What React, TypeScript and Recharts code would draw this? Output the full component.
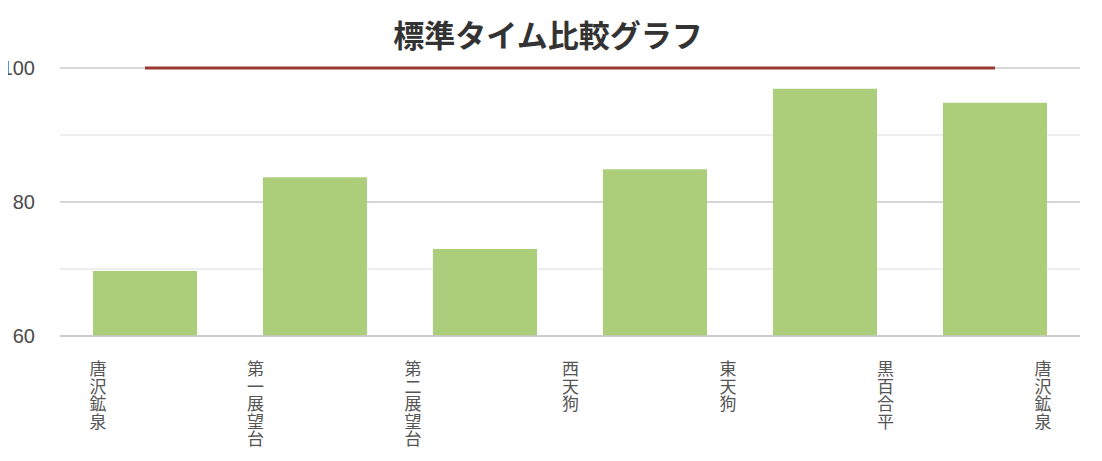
import { ComposedChart, Bar, Line, XAxis, YAxis, CartesianGrid } from "recharts";

const stations = ["唐沢鉱泉", "第一展望台", "第二展望台", "西天狗", "東天狗", "黒百合平", "唐沢鉱泉"];
const actualTimes = [69.7, 83.7, 73.0, 84.9, 96.9, 94.8];
const standardTimes = [100, 100, 100, 100, 100, 100];
const gridTicks = [60, 70, 80, 90, 100];
const labelledTicks = [60, 80, 100];

const data = actualTimes.map((actual, i) => ({
  segment: `${stations[i]}→${stations[i + 1]}`,
  actual,
  standard: standardTimes[i],
}));

const stationData = stations.map((name, i) => ({ pos: i, name, base: 60 }));
const stationIndexes = stations.map((_, i) => i);

const cjk = '"Noto Sans CJK JP", "Noto Sans", sans-serif';

const StationTick = ({ x, y, payload }: any) => {
  const label = stations[payload.value] ?? "";
  return (
    <text x={x} y={y + 39} textAnchor="middle" fill="#555" fontSize={17} fontFamily={cjk}>
      {label.split("").map((ch, i) => (
        <tspan key={i} x={x} dy={i === 0 ? 0 : 17.6}>
          {ch}
        </tspan>
      ))}
    </text>
  );
};

const ValueTick = ({ x, y, payload }: any) => {
  if (!labelledTicks.includes(payload.value)) return null;
  return (
    <text
      x={x}
      y={y}
      dy="0.36em"
      textAnchor="end"
      fill="#4a4a4a"
      fontSize={20}
      fontFamily='"Liberation Sans", Arial, sans-serif'
    >
      {payload.value}
    </text>
  );
};

const GridLine = (props: any) => {
  const { x1, x2, y1, y2, index } = props;
  const major = index % 2 === 0;
  return (
    <line
      x1={x1}
      x2={x2}
      y1={y1}
      y2={y2}
      stroke={major ? "#c8c8c8" : "#e8e8e8"}
      strokeWidth={1.5}
    />
  );
};

export default function App() {
  return (
    <div style={{ margin: -8, position: "relative", width: 1102, height: 461, background: "#fff" }}>
      <div style={{ position: "absolute", top: 0, left: 0, width: 1102, height: 3, background: "#cccccc" }} />
      <svg width={1102} height={70} style={{ position: "absolute", top: 0, left: 0 }}>
        <text x={548} y={47} textAnchor="middle" fontSize={31} fontWeight="bold" fill="#333" fontFamily={cjk}>
          標準タイム比較グラフ
        </text>
      </svg>
      <ComposedChart
        width={1102}
        height={461}
        data={data}
        margin={{ top: 68, right: 22, bottom: 0, left: 0 }}
        barCategoryGap="19.4%"
      >
        <CartesianGrid vertical={false} horizontal={GridLine} />
        <XAxis xAxisId="seg" dataKey="segment" hide height={0} />
        <XAxis
          xAxisId="station"
          dataKey="pos"
          type="number"
          domain={[0, 6]}
          ticks={stationIndexes}
          interval={0}
          padding={{ left: 38, right: 37 }}
          height={125}
          tickSize={0}
          tickMargin={0}
          tickLine={false}
          axisLine={{ stroke: "#c8c8c8", strokeWidth: 1.5 }}
          tick={<StationTick />}
        />
        <YAxis
          domain={[60, 100]}
          ticks={gridTicks}
          interval={0}
          width={60}
          axisLine={false}
          tickLine={false}
          tickSize={0}
          tickMargin={25}
          tick={<ValueTick />}
        />
        <Bar xAxisId="seg" dataKey="actual" fill="#accd7a" isAnimationActive={false} />
        <Line
          xAxisId="station"
          data={stationData}
          dataKey="base"
          stroke="none"
          dot={false}
          activeDot={false}
          isAnimationActive={false}
        />
        <Line
          xAxisId="seg"
          dataKey="standard"
          stroke="#993a30"
          strokeWidth={3}
          dot={false}
          activeDot={false}
          isAnimationActive={false}
        />
      </ComposedChart>
    </div>
  );
}
